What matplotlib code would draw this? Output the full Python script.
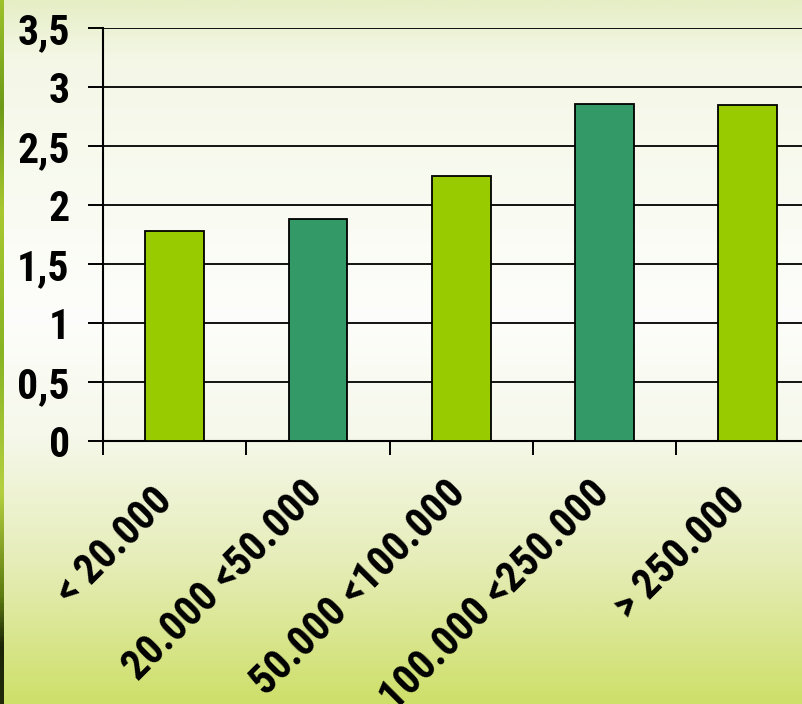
import numpy as np
import matplotlib
matplotlib.use('Agg')
import matplotlib.pyplot as plt
from matplotlib import font_manager
from matplotlib.colors import LinearSegmentedColormap
from matplotlib.transforms import ScaledTranslation

# data (the short labels carry a trailing space, as in the original)
categories = ['< 20.000 ', '20.000 <50.000', '50.000 <100.000', '100.000 <250.000', '> 250.000 ']
values = [1.78, 1.88, 2.25, 2.86, 2.85]
bar_colors = ['#99CC00', '#339966', '#99CC00', '#339966', '#99CC00']
y_ticks = [0, 0.5, 1, 1.5, 2, 2.5, 3, 3.5]
y_labels = ['0', '0,5', '1', '1,5', '2', '2,5', '3', '3,5']

# pick a narrow bold font (looks like Arial Narrow in the original)
names = {f.name for f in font_manager.fontManager.ttflist}
wanted = ['Liberation Sans Narrow', 'Arial Narrow', 'Roboto Condensed',
          'Archivo Narrow', 'DejaVu Sans']
family = [f for f in wanted if f in names] + ['DejaVu Sans']
plt.rcParams['font.family'] = family
plt.rcParams['font.stretch'] = 'condensed'

fig = plt.figure(figsize=(8.02, 7.04), dpi=100)

# background gradient
bg = fig.add_axes([0, 0, 1, 1], zorder=-10)
stops = [(0.0, '#E6EEC6'), (0.08, '#F4F7E6'), (0.45, '#FDFEFB'),
         (0.62, '#F5F8EA'), (0.8, '#E6EDB8'), (1.0, '#CEE06A')]
cmap = LinearSegmentedColormap.from_list('bg', stops)
grad = np.linspace(0, 1, 400).reshape(-1, 1)
bg.imshow(grad, aspect='auto', cmap=cmap, extent=[0, 1, 1, 0])
# textured strip on the left edge
strip_cmap = LinearSegmentedColormap.from_list('strip', [
    (0.0, '#9CC02A'), (0.15, '#6E9A18'), (0.3, '#A8C830'), (0.5, '#88B424'),
    (0.7, '#B4D040'), (0.85, '#5C7A10'), (0.92, '#1C2408'), (1.0, '#202A0A')])
bg.imshow(grad, aspect='auto', cmap=strip_cmap, extent=[0, 4 / 802, 1, 0])
bg.set_xlim(0, 1)
bg.set_ylim(1, 0)
bg.axis('off')

ax = fig.add_axes([103 / 802, 1 - 441 / 704, 716.5 / 802, 413 / 704])
ax.set_facecolor('none')

x = np.arange(len(values)) + 0.5
ax.bar(x, values, width=0.41, color=bar_colors, edgecolor='black', linewidth=1.3, zorder=3)

ax.set_xlim(0, 5)
ax.set_ylim(0, 3.5)

for y in y_ticks[1:]:
    ax.axhline(y, color='black', linewidth=1.3, zorder=1)

for side in ['top', 'right']:
    ax.spines[side].set_visible(False)
ax.spines['left'].set_linewidth(1.5)
ax.spines['bottom'].set_linewidth(1.5)

ax.set_yticks(y_ticks)
ax.set_yticklabels(y_labels, fontsize=30, fontweight='bold')
ax.tick_params(axis='y', direction='out', length=11, width=1.4, pad=13)

ax.set_xticks(np.arange(5))
ax.set_xticklabels([])
ax.tick_params(axis='x', which='major', direction='out', length=10, width=1.4)
ax.set_xticks(x, minor=True)
ax.set_xticklabels(categories, minor=True, fontsize=30, fontweight='bold',
                   rotation=45, ha='right', va='top', rotation_mode='anchor')
ax.tick_params(axis='x', which='minor', length=0, pad=23)
shift = ScaledTranslation(-16 / 100, 0, fig.dpi_scale_trans)
for lab in ax.get_xticklabels(minor=True):
    lab.set_transform(lab.get_transform() + shift)

fig.savefig('out.png', dpi=100)
